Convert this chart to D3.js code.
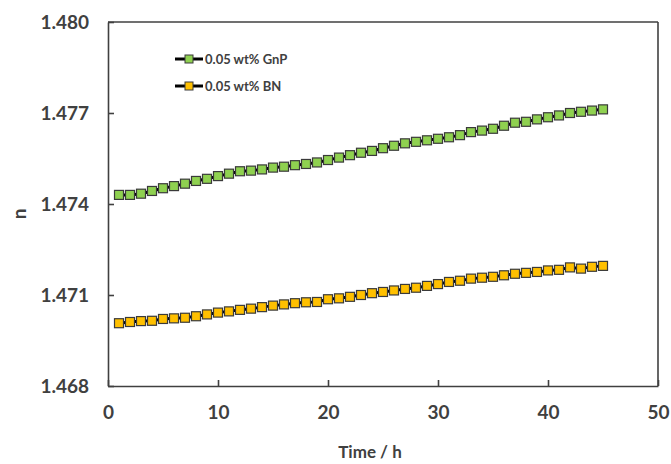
<!DOCTYPE html>
<html>
<head>
<meta charset="utf-8">
<script src="https://cdn.jsdelivr.net/npm/d3@7"></script>
<style>
  body { margin: 0; background: #fff; }
  text { font-family: Lato, 'Open Sans', sans-serif; font-weight: bold; fill: #404040; }
</style>
</head>
<body>
<script>
// time in hours, 1..45
const hours = [1, 2, 3, 4, 5, 6, 7, 8, 9, 10, 11, 12, 13, 14, 15, 16, 17, 18, 19, 20, 21, 22, 23, 24, 25,
  26, 27, 28, 29, 30, 31, 32, 33, 34, 35, 36, 37, 38, 39, 40, 41, 42, 43, 44, 45]

const gnp = [1.47430, 1.47430, 1.47434, 1.47443, 1.47452, 1.47459, 1.47467, 1.47476, 1.47483, 1.47492,
  1.47500, 1.47508, 1.47510, 1.47514, 1.47520, 1.47523, 1.47528, 1.47532, 1.47537, 1.47545,
  1.47553, 1.47561, 1.47569, 1.47575, 1.47584, 1.47592, 1.47600, 1.47605, 1.47610, 1.47615,
  1.47620, 1.47627, 1.47637, 1.47642, 1.47648, 1.47658, 1.47668, 1.47671, 1.47679, 1.47686,
  1.47692, 1.47700, 1.47704, 1.47708, 1.47712]

const bn = [1.47007, 1.47011, 1.47014, 1.47015, 1.47021, 1.47023, 1.47025, 1.47030, 1.47036, 1.47042,
  1.47046, 1.47051, 1.47055, 1.47060, 1.47065, 1.47069, 1.47073, 1.47076, 1.47077, 1.47086,
  1.47089, 1.47094, 1.47100, 1.47106, 1.47110, 1.47115, 1.47120, 1.47124, 1.47130, 1.47136,
  1.47143, 1.47147, 1.47154, 1.47157, 1.47160, 1.47165, 1.47170, 1.47173, 1.47176, 1.47181,
  1.47183, 1.47191, 1.47187, 1.47193, 1.47196]

const xTicks = [0, 10, 20, 30, 40, 50]
const yTicks = [1.468, 1.471, 1.474, 1.477, 1.480]

const series = [
  {name: '0.05 wt% GnP', values: gnp, color: '#8fd150'},
  {name: '0.05 wt% BN', values: bn, color: '#ffc000'}
]

const svg = d3.select('body').append('svg')
  .attr('width', 671)
  .attr('height', 464)

const margin = {top: 22, right: 13, bottom: 78, left: 108}
const width = 671 - margin.left - margin.right
const height = 464 - margin.top - margin.bottom

const x = d3.scaleLinear().domain([0, 50]).range([0, width])
const y = d3.scaleLinear().domain([1.468, 1.480]).range([height, 0])

const g = svg.append('g').attr('transform', `translate(${margin.left},${margin.top})`)

const axisColor = '#404040'

// x axis, ticks point inward
const xAxis = g.append('g')
  .attr('transform', `translate(0,${height})`)
  .call(d3.axisBottom(x).tickValues(xTicks).tickSizeInner(-6).tickSizeOuter(0).tickPadding(20))
xAxis.selectAll('text').style('font-size', '19px')

const yAxis = g.append('g')
  .call(d3.axisLeft(y).tickValues(yTicks).tickFormat(d3.format('.3f')).tickSizeInner(-6).tickSizeOuter(0).tickPadding(19))
yAxis.selectAll('text').style('font-size', '19px')

g.selectAll('.domain, .tick line').attr('stroke', axisColor).attr('stroke-width', 1.6)

// box top and right
g.append('line').attr('x1', 0).attr('x2', width).attr('y1', 0).attr('y2', 0)
  .attr('stroke', axisColor).attr('stroke-width', 1.6)
g.append('line').attr('x1', width).attr('x2', width).attr('y1', 0).attr('y2', height)
  .attr('stroke', axisColor).attr('stroke-width', 1.6)

const line = d3.line()
  .x((d, i) => x(hours[i]))
  .y((d) => y(d))

series.forEach((s) => {
  g.append('path')
    .datum(s.values)
    .attr('fill', 'none')
    .attr('stroke', '#000')
    .attr('stroke-width', 3)
    .attr('d', line)

  g.selectAll(null)
    .data(s.values)
    .enter()
    .append('rect')
    .attr('x', (d, i) => x(hours[i]) - 4.5)
    .attr('y', (d) => y(d) - 4.5)
    .attr('width', 9)
    .attr('height', 9)
    .attr('fill', s.color)
    .attr('stroke', '#3a3a3a')
    .attr('stroke-width', 1.2)
})

// legend
const legend = svg.append('g').attr('transform', 'translate(175,59)')
series.forEach((s, i) => {
  const row = legend.append('g').attr('transform', `translate(0,${i * 27})`)
  row.append('line').attr('x1', 0).attr('x2', 28).attr('stroke', '#000').attr('stroke-width', 3)
  row.append('rect').attr('x', 10).attr('y', -4).attr('width', 8).attr('height', 8)
    .attr('fill', s.color).attr('stroke', '#3a3a3a').attr('stroke-width', 1)
  row.append('text').attr('x', 30).attr('dy', '0.35em').style('font-size', '13px').text(s.name)
})

svg.append('text')
  .attr('x', margin.left + width / 2 - 13)
  .attr('y', 458)
  .attr('text-anchor', 'middle')
  .style('font-size', '17px')
  .text('Time / h')

svg.append('text')
  .attr('transform', `translate(26,${margin.top + height / 2 + 10}) rotate(-90)`)
  .attr('text-anchor', 'middle')
  .style('font-size', '19px')
  .text('n')
</script>
</body>
</html>
